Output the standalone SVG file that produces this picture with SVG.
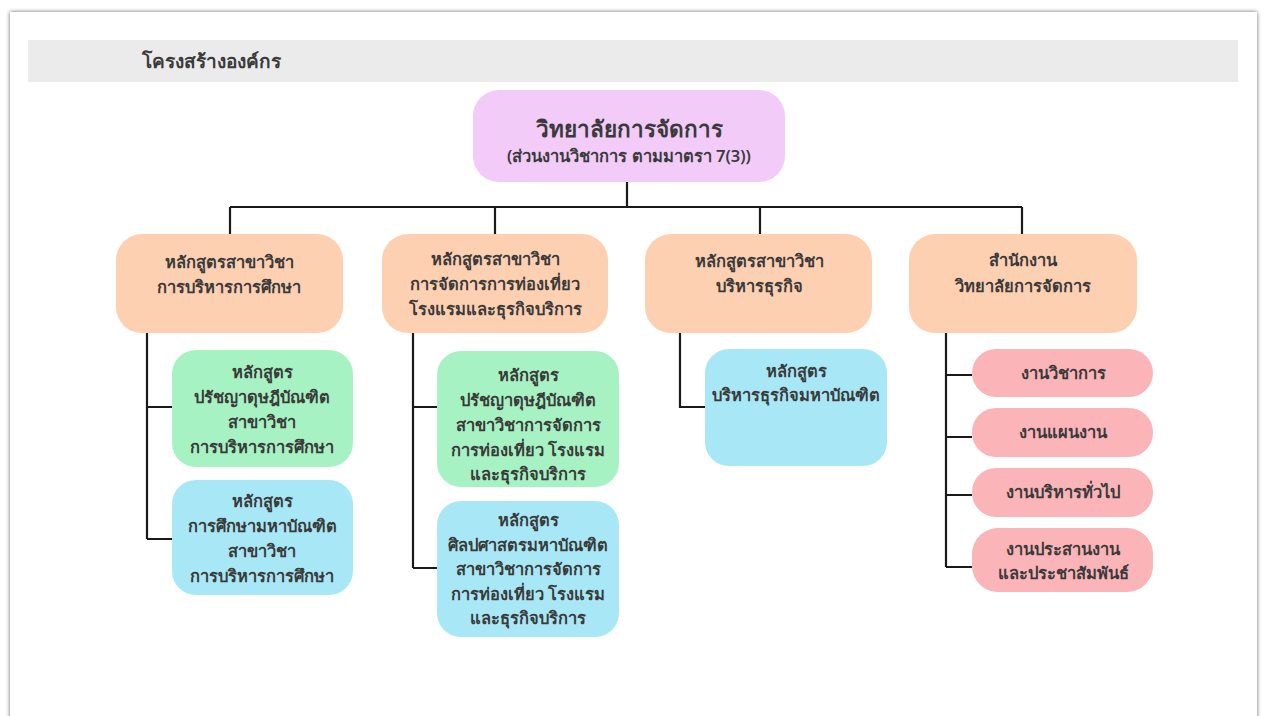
<svg xmlns="http://www.w3.org/2000/svg" width="1264" height="716" viewBox="0 0 1264 716">
<defs>
<filter id="sh" x="-5%" y="-5%" width="110%" height="110%">
<feGaussianBlur in="SourceAlpha" stdDeviation="2"/>
<feOffset dx="0" dy="0"/>
<feComponentTransfer><feFuncA type="linear" slope="0.6"/></feComponentTransfer>
<feMerge><feMergeNode/><feMergeNode in="SourceGraphic"/></feMerge>
</filter>
</defs>
<style>
text{font-family:"Noto Sans","Liberation Sans",sans-serif;font-weight:bold;fill:#3a3a3a;text-anchor:middle}
.t{font-size:16.5px}
.l2{font-size:16.5px}
.conn{fill:none;stroke:#1a1a1a;stroke-width:2.2}
.top{fill:#f2cbf8}
.peach{fill:#fdd0b2}
.green{fill:#a7f2c2}
.blue{fill:#a8e8f6}
.pink{fill:#fbb4b8}
</style>
<rect x="0" y="0" width="1264" height="716" fill="#ffffff"/>
<rect x="10" y="12" width="1247" height="720" fill="#ffffff" filter="url(#sh)"/>
<rect x="28" y="40" width="1210" height="42" fill="#ebebeb"/>
<text x="142" y="68" style="font-size:19px;text-anchor:start">โครงสร้างองค์กร</text>

<g id="connectors">
<path class="conn" d="M627 182V207M230 207H1022M230 207V235M495 207V235M760 207V235M1022 207V235"/>
<path class="conn" d="M147 333V539M147 407H172M147 539H172"/>
<path class="conn" d="M413 333V568M413 407H437M413 568H437"/>
<path class="conn" d="M680 333V407H705"/>
<path class="conn" d="M946 333V567M946 375H972M946 437H972M946 495H972M946 567H972"/>
</g>

<g id="root">
<rect class="top" x="473" y="90" width="312" height="92" rx="26"/>
<text x="629" y="137" style="font-size:22.5px">วิทยาลัยการจัดการ</text>
<text x="629" y="162" style="font-size:16.5px;font-weight:600">(ส่วนงานวิชาการ ตามมาตรา 7(3))</text>
</g>

<g id="n1">
<rect class="peach" x="116" y="234" width="227" height="99" rx="26"/>
<text class="l2" x="229" y="268">หลักสูตรสาขาวิชา</text>
<text class="l2" x="229" y="293">การบริหารการศึกษา</text>
</g>
<g id="n2">
<rect class="peach" x="382" y="234" width="226" height="99" rx="26"/>
<text class="l2" x="495" y="265">หลักสูตรสาขาวิชา</text>
<text class="l2" x="495" y="290">การจัดการการท่องเที่ยว</text>
<text class="l2" x="495" y="315">โรงแรมและธุรกิจบริการ</text>
</g>
<g id="n3">
<rect class="peach" x="645" y="234" width="227" height="99" rx="26"/>
<text class="l2" x="759" y="267">หลักสูตรสาขาวิชา</text>
<text class="l2" x="759" y="292">บริหารธุรกิจ</text>
</g>
<g id="n4">
<rect class="peach" x="909" y="234" width="228" height="99" rx="26"/>
<text class="l2" x="1023" y="266">สำนักงาน</text>
<text class="l2" x="1023" y="292">วิทยาลัยการจัดการ</text>
</g>

<g id="g1">
<rect class="green" x="172" y="350" width="181" height="117" rx="24"/>
<text class="t" x="262" y="378">หลักสูตร</text>
<text class="t" x="262" y="403">ปรัชญาดุษฎีบัณฑิต</text>
<text class="t" x="262" y="428">สาขาวิชา</text>
<text class="t" x="262" y="453">การบริหารการศึกษา</text>
</g>
<g id="b1">
<rect class="blue" x="172" y="480" width="181" height="115" rx="24"/>
<text class="t" x="262" y="507">หลักสูตร</text>
<text class="t" x="262" y="532">การศึกษามหาบัณฑิต</text>
<text class="t" x="262" y="557">สาขาวิชา</text>
<text class="t" x="262" y="582">การบริหารการศึกษา</text>
</g>
<g id="g2">
<rect class="green" x="437" y="351" width="182" height="136" rx="24"/>
<text class="t" x="528" y="381">หลักสูตร</text>
<text class="t" x="528" y="406">ปรัชญาดุษฎีบัณฑิต</text>
<text class="t" x="528" y="431">สาขาวิชาการจัดการ</text>
<text class="t" x="528" y="456">การท่องเที่ยว โรงแรม</text>
<text class="t" x="528" y="480">และธุรกิจบริการ</text>
</g>
<g id="b2">
<rect class="blue" x="437" y="501" width="182" height="136" rx="24"/>
<text class="t" x="528" y="526">หลักสูตร</text>
<text class="t" x="528" y="551">ศิลปศาสตรมหาบัณฑิต</text>
<text class="t" x="528" y="575">สาขาวิชาการจัดการ</text>
<text class="t" x="528" y="600">การท่องเที่ยว โรงแรม</text>
<text class="t" x="528" y="624">และธุรกิจบริการ</text>
</g>
<g id="b3">
<rect class="blue" x="705" y="349" width="182" height="117" rx="24"/>
<text class="t" x="796" y="377">หลักสูตร</text>
<text class="t" x="796" y="401">บริหารธุรกิจมหาบัณฑิต</text>
</g>

<g id="p1">
<rect class="pink" x="972" y="349" width="181" height="48" rx="24"/>
<text class="t" x="1063" y="379">งานวิชาการ</text>
</g>
<g id="p2">
<rect class="pink" x="972" y="408" width="181" height="49" rx="24"/>
<text class="t" x="1063" y="438">งานแผนงาน</text>
</g>
<g id="p3">
<rect class="pink" x="972" y="468" width="181" height="49" rx="24"/>
<text class="t" x="1063" y="498">งานบริหารทั่วไป</text>
</g>
<g id="p4">
<rect class="pink" x="972" y="528" width="181" height="64" rx="26"/>
<text class="t" x="1063" y="555">งานประสานงาน</text>
<text class="t" x="1063" y="579">และประชาสัมพันธ์</text>
</g>
</svg>
